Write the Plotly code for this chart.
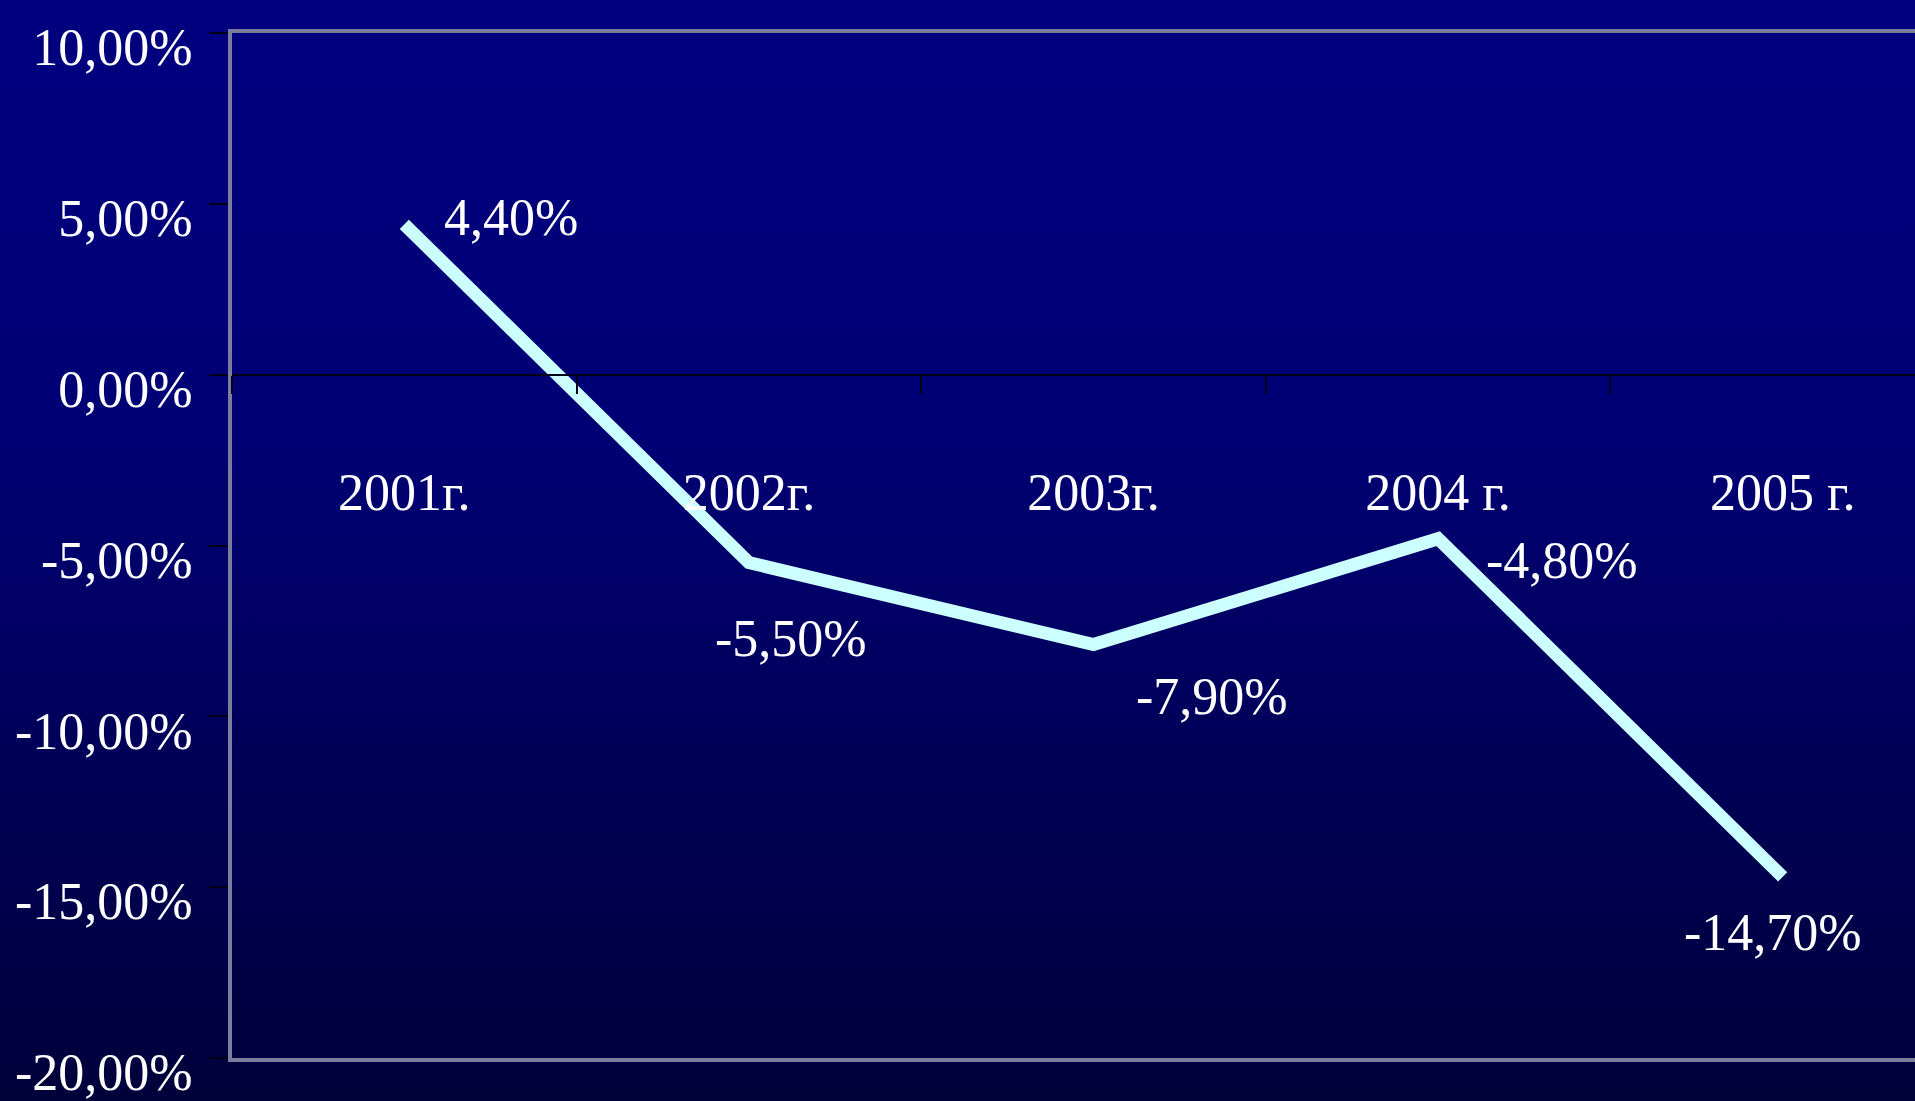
import base64
import plotly.graph_objects as go

# Annual change, per cent
years = ["2001г.", "2002г.", "2003г.", "2004 г.", "2005 г."]
change_pct = [4.4, -5.5, -7.9, -4.8, -14.7]

# Value axis ticks (comma decimal separator)
y_tick_vals = [-20, -15, -10, -5, 0, 5, 10]
y_tick_text = ["-20,00%", "-15,00%", "-10,00%", "-5,00%", "0,00%", "5,00%", "10,00%"]

# Offsets (px) of each data label from its point
label_dx = [107, 42, 118, 124, -10]
label_dy = [7, -76, -52, -22, -56]

W, H = 1915, 1101
M_L, M_R, M_T, M_B = 232, 0, 33, 43
plot_w = W - M_L - M_R
plot_h = H - M_T - M_B

FONT = "Liberation Serif"
FS = 52

# Vertical navy gradient for the whole slide background
svg = (
    '<svg xmlns="http://www.w3.org/2000/svg" width="100" height="100" preserveAspectRatio="none">'
    '<defs><linearGradient id="g" x1="0" y1="0" x2="0" y2="1">'
    '<stop offset="0" stop-color="#000080"/>'
    '<stop offset="0.4" stop-color="#000074"/>'
    '<stop offset="1" stop-color="#00003a"/>'
    '</linearGradient></defs>'
    '<rect width="100" height="100" fill="url(#g)"/></svg>'
)
bg_uri = "data:image/svg+xml;base64," + base64.b64encode(svg.encode()).decode()

# category range so the last slot runs past the right edge of the page
x_lo = -0.5
x_hi = x_lo + plot_w / 344.6

fig = go.Figure()
fig.add_trace(go.Scatter(
    x=years, y=change_pct, mode="lines",
    line=dict(color="#ccffff", width=13),
    xaxis="x", yaxis="y", hoverinfo="skip", showlegend=False,
))
# carrier trace for the category axis drawn along the zero line
fig.add_trace(go.Scatter(
    x=years, y=change_pct, mode="lines", line=dict(width=0),
    opacity=0, xaxis="x2", yaxis="y", hoverinfo="skip", showlegend=False,
))

for i, (yr, v) in enumerate(zip(years, change_pct)):
    fig.add_annotation(
        x=yr, y=v, xref="x", yref="y",
        text=f"{v:.2f}".replace(".", ",") + "%",
        showarrow=False, xanchor="center", yanchor="middle",
        xshift=label_dx[i], yshift=label_dy[i],
        font=dict(family=FONT, size=FS, color="white"),
    )

fig.update_layout(
    width=W, height=H,
    margin=dict(l=M_L, r=M_R, t=M_T, b=M_B, autoexpand=False),
    paper_bgcolor="#000070",
    plot_bgcolor="rgba(0,0,0,0)",
    showlegend=False,
    images=[dict(
        source=bg_uri, xref="paper", yref="paper",
        x=-M_L / plot_w, y=1 + M_T / plot_h,
        sizex=W / plot_w, sizey=H / plot_h,
        xanchor="left", yanchor="top", sizing="stretch", layer="below",
    )],
    xaxis=dict(
        type="category", categoryarray=years, range=[x_lo, x_hi],
        showline=True, linecolor="#7c7c9c", linewidth=4, mirror=True,
        showgrid=False, zeroline=False, ticks="", showticklabels=False,
        fixedrange=True, automargin=False,
    ),
    xaxis2=dict(
        type="category", categoryarray=years, range=[x_lo, x_hi],
        overlaying="x", anchor="free", position=2 / 3, side="bottom",
        showline=True, linecolor="#000018", linewidth=2,
        ticks="outside", tickson="boundaries", ticklen=18, tickwidth=2,
        tickcolor="#000018", showgrid=False, zeroline=False,
        tickfont=dict(family=FONT, size=FS, color="white"),
        ticklabelstandoff=72, automargin=False,
    ),
    yaxis=dict(
        range=[-20, 10], tickvals=y_tick_vals, ticktext=y_tick_text,
        showline=True, linecolor="#7c7c9c", linewidth=4,
        ticks="outside", ticklen=19, tickwidth=2, tickcolor="#000018",
        showgrid=False, zeroline=False,
        tickfont=dict(family=FONT, size=FS, color="white"),
        ticklabelstandoff=6, ticklabelshift=14, ticklabeloverflow="allow",
        automargin=False,
    ),
)

fig.write_html("out.html")
